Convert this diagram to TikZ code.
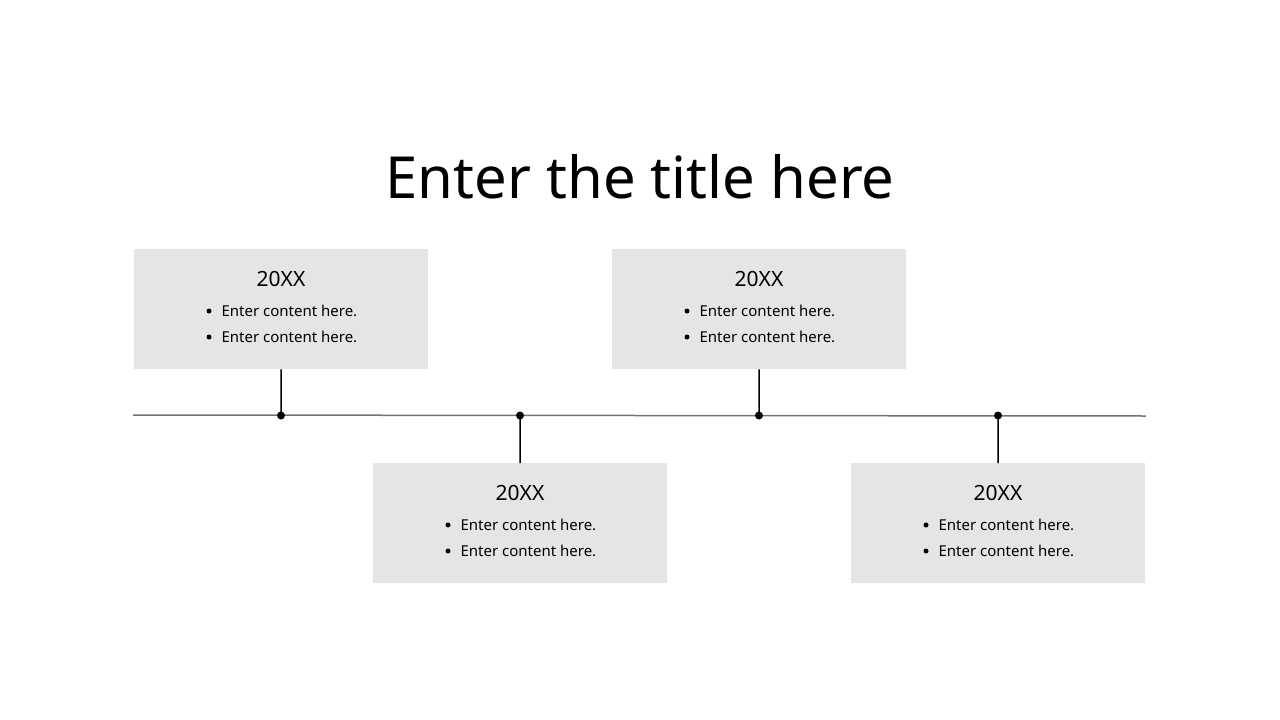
\documentclass[tikz,border=0pt]{standalone}
\usepackage{fontspec}
\setmainfont{Noto Sans}
\begin{document}
\begin{tikzpicture}[x=1pt,y=-1pt,
  card/.style={fill=black!10,draw=none,minimum width=294pt,minimum height=120pt,anchor=north west,inner sep=0pt},
  yr/.style={font=\fontsize{21}{24}\selectfont},
  itm/.style={font=\fontsize{15}{18}\selectfont,anchor=west},
  dot/.style={circle,fill=black,inner sep=0pt,minimum size=8pt}]
\useasboundingbox (0,0) rectangle (1280,720);
\node[font=\bfseries\fontsize{58}{64}\selectfont] (t) at (640,177) {Enter the title here};
\coordinate (L) at (133,415); \coordinate (R) at (1146,416);
\draw[black!55,line width=1.5pt] (L) -- (R);
\foreach \n/\x/\y/\d in {a/134/249/1,b/373/463/0,c/612/249/1,d/851/463/0}{
  \node[card] (\n) at (\x,\y) {};
  \node[yr] at (\x+147,279+\y-249) {20XX};
  \node[dot,minimum size=5pt] at (\x+75,311+\y-249) {};
  \node[itm] at (\x+84,311+\y-249) {Enter content here.};
  \node[dot,minimum size=5pt] at (\x+75,337+\y-249) {};
  \node[itm] at (\x+84,337+\y-249) {Enter content here.};
  \node[dot] (p\n) at (\x+147,415.5) {};
}
\draw[line width=1.5pt] (a.south) -- (pa.center);
\draw[line width=1.5pt] (c.south) -- (pc.center);
\draw[line width=1.5pt] (pb.center) -- (b.north);
\draw[line width=1.5pt] (pd.center) -- (d.north);
\end{tikzpicture}
\end{document}
